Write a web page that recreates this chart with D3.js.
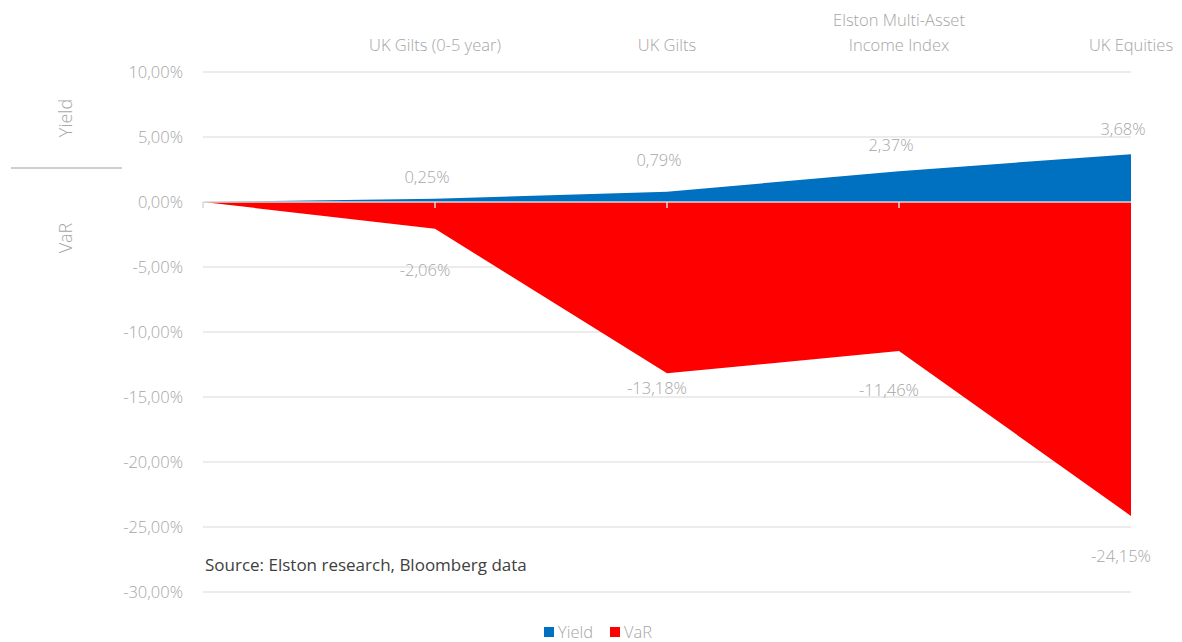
<!DOCTYPE html>
<html>
<head>
<meta charset="utf-8">
<script src="https://cdn.jsdelivr.net/npm/d3@7"></script>
<style>
  body { margin: 0; background: #fff; }
  svg { font-family: "Open Sans", "Segoe UI", sans-serif; font-weight: 300; }
</style>
</head>
<body>
<svg id="chart" width="1182" height="642"></svg>
<script>
// chart data
var categories = ["", "UK Gilts (0-5 year)", "UK Gilts", "Elston Multi-Asset\nIncome Index", "UK Equities"];
var yieldValues = [0, 0.25, 0.79, 2.37, 3.68];
var varValues = [0, -2.06, -13.18, -11.46, -24.15];
var yTicks = [10, 5, 0, -5, -10, -15, -20, -25, -30];

// label nudges (px), roughly where Excel put them
var yieldLabelDy = [0, -16, -26, -20, -19];
var varLabelDy = [0, 47, 21, 45, 46];

var svg = d3.select("#chart");
var plotLeft = 203, plotRight = 1131, plotTop = 72, plotBottom = 592;
var grey = "#a6a6a6";
var fs = "16.5px";

var x = d3.scaleLinear().domain([0, categories.length - 1]).range([plotLeft, plotRight]);
var y = d3.scaleLinear().domain([-30, 10]).range([plotBottom, plotTop]);

function pct(v) {
    return d3.format(".2f")(v).replace("\u2212", "-").replace(".", ",") + "%";
}

// gridlines
svg.append("g")
    .selectAll("line")
    .data(yTicks.filter(function(d) { return d !== 0; }))
    .enter().append("line")
    .attr("x1", plotLeft).attr("x2", plotRight)
    .attr("y1", function(d) { return y(d); })
    .attr("y2", function(d) { return y(d); })
    .attr("stroke", "#d9d9d9")
    .attr("stroke-width", 1);

// y axis labels
svg.append("g")
    .selectAll("text")
    .data(yTicks)
    .enter().append("text")
    .attr("x", 183)
    .attr("y", function(d) { return y(d) + 6; })
    .attr("text-anchor", "end")
    .style("font-size", fs)
    .style("fill", grey)
    .text(pct);

// areas
var area = d3.area()
    .x(function(d, i) { return x(i); })
    .y0(y(0))
    .y1(function(d) { return y(d); });

svg.append("path")
    .datum(varValues)
    .attr("d", area)
    .attr("fill", "#ff0000");

svg.append("path")
    .datum(yieldValues)
    .attr("d", area)
    .attr("fill", "#0070c0");

// zero axis with ticks
svg.append("line")
    .attr("x1", plotLeft).attr("x2", plotRight)
    .attr("y1", y(0)).attr("y2", y(0))
    .attr("stroke", "#d9d9d9")
    .attr("stroke-width", 1.5);

svg.append("g")
    .selectAll("line")
    .data(d3.range(categories.length - 1))
    .enter().append("line")
    .attr("x1", function(d) { return x(d); })
    .attr("x2", function(d) { return x(d); })
    .attr("y1", y(0)).attr("y2", y(0) + 6)
    .attr("stroke", "#d9d9d9")
    .attr("stroke-width", 1.5);

// category labels on top
var cats = svg.append("g")
    .selectAll("text")
    .data(categories)
    .enter().append("text")
    .attr("text-anchor", "middle")
    .style("font-size", fs)
    .style("fill", grey);

cats.each(function(d, i) {
    var lines = d.split("\n");
    var t = d3.select(this);
    lines.forEach(function(l, j) {
        t.append("tspan")
            .attr("x", x(i))
            .attr("y", 51 - (lines.length - 1 - j) * 25)
            .text(l);
    });
});

// data labels
svg.append("g")
    .selectAll("text")
    .data(yieldValues.slice(1))
    .enter().append("text")
    .attr("x", function(d, i) { return x(i + 1) - 8; })
    .attr("y", function(d, i) { return y(d) + yieldLabelDy[i + 1]; })
    .attr("text-anchor", "middle")
    .style("font-size", fs)
    .style("fill", grey)
    .text(pct);

svg.append("g")
    .selectAll("text")
    .data(varValues.slice(1))
    .enter().append("text")
    .attr("x", function(d, i) { return x(i + 1) - 10; })
    .attr("y", function(d, i) { return y(d) + varLabelDy[i + 1]; })
    .attr("text-anchor", "middle")
    .style("font-size", fs)
    .style("fill", grey)
    .text(pct);

// left side titles
svg.append("text")
    .attr("transform", "translate(72,118) rotate(-90)")
    .attr("text-anchor", "middle")
    .style("font-size", "18px")
    .style("fill", grey)
    .text("Yield");

svg.append("line")
    .attr("x1", 11).attr("x2", 122)
    .attr("y1", 168).attr("y2", 168)
    .attr("stroke", "#bfbfbf")
    .attr("stroke-width", 1.5);

svg.append("text")
    .attr("transform", "translate(72,238) rotate(-90)")
    .attr("text-anchor", "middle")
    .style("font-size", "18px")
    .style("fill", grey)
    .text("VaR");

// source
svg.append("text")
    .attr("x", 205)
    .attr("y", 571)
    .style("font-size", "17px")
    .style("font-weight", 400)
    .style("fill", "#404040")
    .text("Source: Elston research, Bloomberg data");

// legend
var legend = [
    { name: "Yield", color: "#0070c0", x: 544 },
    { name: "VaR", color: "#ff0000", x: 610 }
];
var lg = svg.append("g")
    .selectAll("g")
    .data(legend)
    .enter().append("g")
    .attr("transform", function(d) { return "translate(" + d.x + ",627)"; });
lg.append("rect")
    .attr("width", 10).attr("height", 10)
    .attr("fill", function(d) { return d.color; });
lg.append("text")
    .attr("x", 14).attr("y", 11)
    .style("font-size", fs)
    .style("fill", grey)
    .text(function(d) { return d.name; });
</script>
</body>
</html>
